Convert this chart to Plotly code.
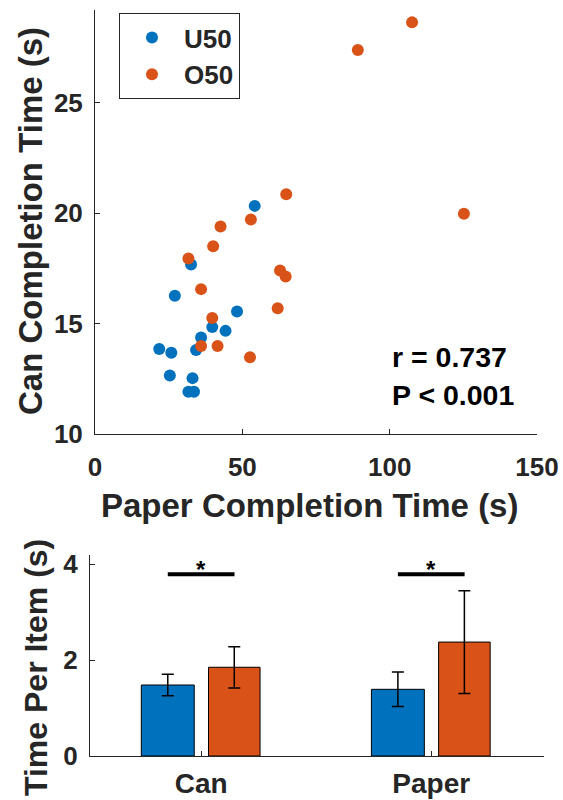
import plotly.graph_objects as go

# ---------------- data ----------------
u50_paper = [21.8, 25.9, 25.4, 27.1, 32.6, 33.1, 31.7, 33.6, 34.3, 36.0, 39.8, 44.3, 48.2, 54.2]
u50_can = [13.85, 13.68, 12.65, 16.26, 17.68, 12.53, 11.91, 11.91, 13.80, 14.37, 14.84, 14.67, 15.55, 20.33]
o50_paper = [31.7, 36.0, 40.1, 42.6, 52.9, 64.9, 39.8, 36.0, 41.6, 52.6, 62.0, 62.8, 64.7, 89.2, 107.6, 125.2]
o50_can = [17.95, 16.56, 18.5, 19.4, 19.71, 20.86, 15.25, 13.98, 13.98, 13.48, 15.69, 17.4, 17.13, 27.39, 28.64, 19.97]

categories = ["Can", "Paper"]
cat_pos = [1, 2]
u50_mean = [1.48, 1.39]
u50_err = [0.225, 0.36]
o50_mean = [1.85, 2.375]
o50_err = [0.43, 1.07]
sig_y = 3.79

BLUE = "#0072BD"
ORANGE = "#D95319"
DARK = "#262626"
FONT = "Liberation Sans, Arial, sans-serif"
W, H = 563, 800

fig = go.Figure()

fig.add_trace(go.Scatter(x=u50_paper, y=u50_can, mode="markers", name="U50",
                         marker=dict(color=BLUE, size=12, line=dict(width=0)),
                         xaxis="x", yaxis="y"))
fig.add_trace(go.Scatter(x=o50_paper, y=o50_can, mode="markers", name="O50",
                         marker=dict(color=ORANGE, size=12, line=dict(width=0)),
                         xaxis="x", yaxis="y"))

fig.add_trace(go.Bar(x=cat_pos, y=u50_mean, offset=-0.26, width=0.23,
                     marker=dict(color=BLUE, line=dict(color="black", width=1)),
                     error_y=dict(type="data", array=u50_err, color="black", thickness=1.5, width=6),
                     showlegend=False, xaxis="x2", yaxis="y2"))
fig.add_trace(go.Bar(x=cat_pos, y=o50_mean, offset=0.032, width=0.224,
                     marker=dict(color=ORANGE, line=dict(color="black", width=1)),
                     error_y=dict(type="data", array=o50_err, color="black", thickness=1.5, width=6),
                     showlegend=False, xaxis="x2", yaxis="y2"))

axis_common = dict(showline=True, linecolor=DARK, linewidth=1, ticks="inside", ticklen=5,
                   tickwidth=1, tickcolor=DARK, showgrid=False, zeroline=False, automargin=False,
                   tickfont=dict(family=FONT, size=26, color=DARK, weight="bold"))

fig.update_layout(
    template="none",
    width=W, height=H, margin=dict(l=0, r=0, t=0, b=0, pad=0),
    paper_bgcolor="white", plot_bgcolor="white",
    barmode="overlay",
    xaxis=dict(domain=[95 / W, 537 / W], range=[0, 150], tickvals=[0, 50, 100, 150],
               anchor="y", ticklabelstandoff=10, **axis_common),
    yaxis=dict(domain=[1 - 434 / H, 1 - 10 / H], range=[10, 29.2], tickvals=[10, 15, 20, 25],
               anchor="x", ticklabelstandoff=6, **axis_common),
    xaxis2=dict(domain=[90 / W, 544 / W], range=[0.517, 2.49], tickvals=cat_pos,
                ticktext=categories, anchor="y2", ticklabelstandoff=2,
                **{**axis_common, "tickfont": dict(family=FONT, size=28, color=DARK, weight="bold")}),
    yaxis2=dict(domain=[1 - 756 / H, 1 - 555 / H], range=[0, 4.19], tickvals=[0, 2, 4],
                anchor="x2", ticklabelstandoff=6, **axis_common),
    legend=dict(x=119 / W, y=1 - 13 / H, xanchor="left", yanchor="top",
                bordercolor=DARK, borderwidth=1, bgcolor="white", itemwidth=54,
                font=dict(family=FONT, size=26, color=DARK, weight="bold")),
    showlegend=True,
)

title_font = dict(family=FONT, size=33, color=DARK, weight="bold")
ann_font = dict(family=FONT, size=28.5, color="black", weight="bold")
ann = [
    dict(text="Paper Completion Time (s)", x=309 / W, y=1 - 505 / H, xref="paper", yref="paper",
         showarrow=False, xanchor="center", yanchor="middle", font=title_font),
    dict(text="Can Completion Time (s)", x=30 / W, y=1 - 221 / H, xref="paper", yref="paper",
         showarrow=False, xanchor="center", yanchor="middle", textangle=-90, font=title_font),
    dict(text="Time Per Item (s)", x=36 / W, y=1 - 668 / H, xref="paper", yref="paper",
         showarrow=False, xanchor="center", yanchor="middle", textangle=-90,
         font={**title_font, "size": 32}),
    dict(text="r = 0.737", x=390 / W, y=1 - 357 / H, xref="paper", yref="paper",
         showarrow=False, xanchor="left", yanchor="middle", font=ann_font),
    dict(text="P < 0.001", x=390 / W, y=1 - 395 / H, xref="paper", yref="paper",
         showarrow=False, xanchor="left", yanchor="middle", font=ann_font),
]
shapes = []
for c in cat_pos:
    shapes.append(dict(type="line", xref="x2", yref="y2", x0=c - 0.145, x1=c + 0.145,
                       y0=sig_y, y1=sig_y, line=dict(color="black", width=4)))
    ann.append(dict(text="*", x=c, y=sig_y, xref="x2", yref="y2", showarrow=False,
                    xanchor="center", yanchor="bottom", yshift=-11,
                    font=dict(family=FONT, size=24, color="black", weight="bold")))
fig.update_layout(annotations=ann, shapes=shapes)

fig.write_html("out.html", config={"displayModeBar": False},
               post_script="document.body.style.margin='0';document.body.style.padding='0';")
